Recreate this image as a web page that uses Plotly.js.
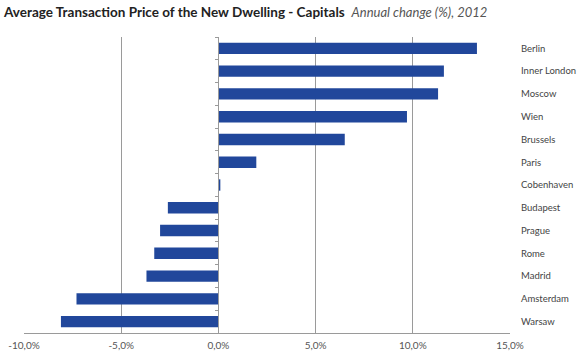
<!DOCTYPE html>
<html>
<head>
<meta charset="utf-8">
<script src="https://cdn.plot.ly/plotly-3.0.1.min.js"></script>
<style>html,body{margin:0;padding:0;background:#fff;}#chart{width:579px;height:355px;}</style>
</head>
<body>
<div id="chart"></div>
<script>
var cities = ["Berlin","Inner London","Moscow","Wien","Brussels","Paris","Cobenhaven","Budapest","Prague","Rome","Madrid","Amsterdam","Warsaw"];
var changes = [13.3, 11.6, 11.3, 9.7, 6.5, 1.95, 0.1, -2.6, -3.0, -3.3, -3.7, -7.3, -8.1];
var xTicks = [-10, -5, 0, 5, 10, 15];
var xTickText = ["-10,0%", "-5,0%", "0,0%", "5,0%", "10,0%", "15,0%"];

var barColor = "#21479b";

var data = [
  {type: "bar", orientation: "h", y: cities, x: changes, yaxis: "y",
   marker: {color: barColor, line: {width: 0}}, width: 0.5, hoverinfo: "skip"},
  {type: "bar", orientation: "h", y: cities, x: changes, yaxis: "y2",
   marker: {color: "rgba(0,0,0,0)"}, width: 0.5, hoverinfo: "skip", showlegend: false}
];

var layout = {
  width: 579, height: 355,
  margin: {l: 24, r: 69, t: 37, b: 22, pad: 0},
  paper_bgcolor: "#fff", plot_bgcolor: "#fff",
  showlegend: false,
  font: {family: "Lato, sans-serif", color: "#444"},
  title: {
    text: "<b>Average Transaction Price of the New Dwelling - Capitals</b>  <i><span style='color:#555;font-size:13px'>Annual change (%), 2012</span></i>",
    x: 0.007, xanchor: "left", y: 0.965, yanchor: "middle",
    font: {family: "Lato, sans-serif", size: 13.5, color: "#222"}
  },
  xaxis: {
    range: [-10, 15], tickmode: "array", tickvals: xTicks, ticktext: xTickText,
    showgrid: true, gridcolor: "#9a9a9a", gridwidth: 1,
    zeroline: true, zerolinecolor: "#9a9a9a", zerolinewidth: 1,
    showline: true, linecolor: "#9a9a9a", linewidth: 1,
    ticks: "inside", ticklen: 3, tickcolor: "#9a9a9a", ticklabelstandoff: 3,
    tickfont: {family: "Lato, sans-serif", size: 10, color: "#555"}, fixedrange: true
  },
  yaxis: {
    type: "category", categoryorder: "array", categoryarray: cities,
    autorange: "reversed", side: "right", showgrid: false, zeroline: false,
    showline: false, ticks: "", ticklabelstandoff: 10,
    tickfont: {family: "Lato, sans-serif", size: 9.5, color: "#444"}, fixedrange: true
  },
  yaxis2: {
    type: "category", categoryorder: "array", categoryarray: cities,
    autorange: "reversed", overlaying: "y", anchor: "free", position: 0.4,
    side: "left", showgrid: false, zeroline: false,
    showline: true, linecolor: "#9a9a9a", linewidth: 1,
    ticks: "outside", tickson: "boundaries", ticklen: 3, tickcolor: "#9a9a9a",
    showticklabels: false, fixedrange: true
  },
  bargap: 0.5
};

Plotly.newPlot("chart", data, layout, {displayModeBar: false, staticPlot: true});
</script>
</body>
</html>
